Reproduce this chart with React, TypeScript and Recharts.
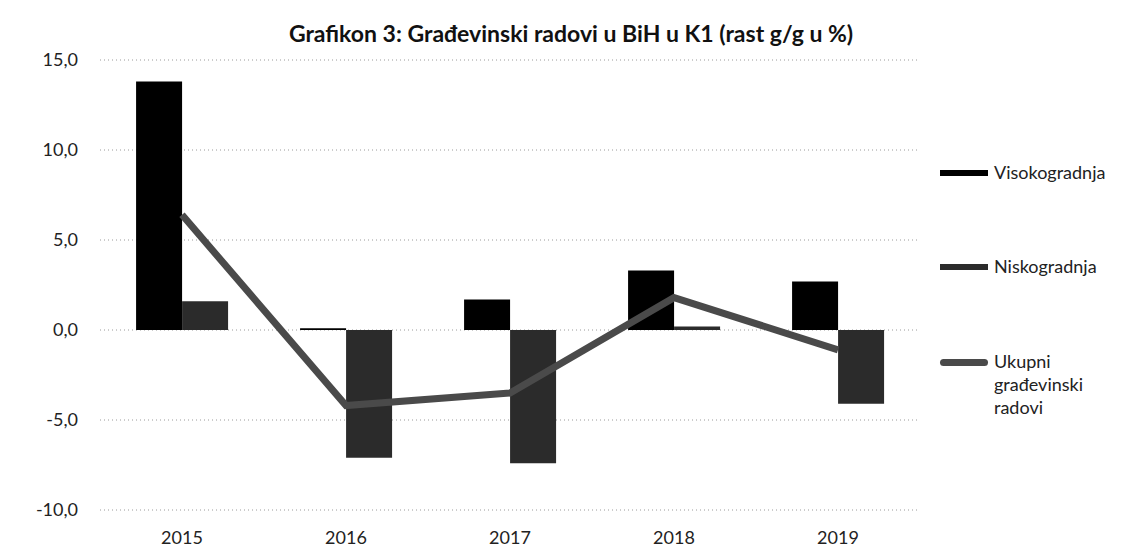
import { ComposedChart, Bar, Line, XAxis, YAxis, CartesianGrid } from 'recharts'

const categories = ['2015', '2016', '2017', '2018', '2019']
const visokogradnja = [13.8, 0.1, 1.7, 3.3, 2.7]
const niskogradnja = [1.6, -7.1, -7.4, 0.2, -4.1]
const ukupni = [6.4, -4.2, -3.5, 1.8, -1.1]
const yTicks = [-10, -5, 0, 5, 10, 15]

const seriesNames = ['Visokogradnja', 'Niskogradnja', 'Ukupni građevinski radovi']
const title = 'Grafikon 3: Građevinski radovi u BiH u K1 (rast g/g u %)'

const data = categories.map((year, i) => ({
  year,
  viso: visokogradnja[i],
  nisko: niskogradnja[i],
  ukupno: ukupni[i]
}))

const FONT = 'Lato, "Open Sans", sans-serif'
const colors = ['#000000', '#2b2b2b', '#4a4a4a']

const fmt = (v: number) => v.toFixed(1).replace('.', ',')

function LegendBox() {
  const tops = [173, 267, 362]
  return (
    <>
      {seriesNames.map((name, i) => (
        <div
          key={name}
          style={{
            position: 'absolute',
            left: 940,
            top: tops[i] - 12,
            display: 'flex',
            alignItems: 'flex-start',
            fontSize: 18,
            color: '#222',
            lineHeight: '23px'
          }}
        >
          <div
            style={{
              width: 48,
              height: i === 2 ? 7 : 6,
              marginTop: 9,
              background: colors[i],
              borderRadius: i === 2 ? 4 : 0,
              marginRight: 6
            }}
          />
          <div style={{ maxWidth: 105 }}>{name}</div>
        </div>
      ))}
    </>
  )
}

export default function App() {
  return (
    <div
      style={{
        position: 'absolute',
        top: 0,
        left: 0,
        width: 1135,
        height: 550,
        background: '#fff',
        fontFamily: FONT
      }}
    >
      <div
        style={{
          position: 'absolute',
          top: 19,
          left: 0,
          width: 1142,
          textAlign: 'center',
          fontSize: 23,
          fontWeight: 700,
          color: '#111'
        }}
      >
        {title}
      </div>
      <ComposedChart
        width={1135}
        height={550}
        data={data}
        margin={{ top: 60, right: 215, bottom: 0, left: 0 }}
        barCategoryGap="22%"
        barGap={0}
      >
        <CartesianGrid vertical={false} stroke="#9a9a9a" strokeDasharray="1 3" />
        <XAxis
          dataKey="year"
          axisLine={false}
          tickLine={false}
          height={40}
          tickMargin={15}
          tick={{ fill: '#222', fontSize: 18, fontFamily: FONT }}
        />
        <YAxis
          width={100}
          domain={[-10, 15]}
          ticks={yTicks}
          axisLine={false}
          tickLine={false}
          tickMargin={16}
          tickFormatter={fmt}
          tick={{ fill: '#222', fontSize: 18, fontFamily: FONT }}
        />
        <Bar dataKey="viso" name={seriesNames[0]} fill={colors[0]} isAnimationActive={false} />
        <Bar dataKey="nisko" name={seriesNames[1]} fill={colors[1]} isAnimationActive={false} />
        <Line
          type="linear"
          dataKey="ukupno"
          name={seriesNames[2]}
          stroke={colors[2]}
          strokeWidth={7}
          dot={false}
          isAnimationActive={false}
        />
      </ComposedChart>
      <LegendBox />
    </div>
  )
}
